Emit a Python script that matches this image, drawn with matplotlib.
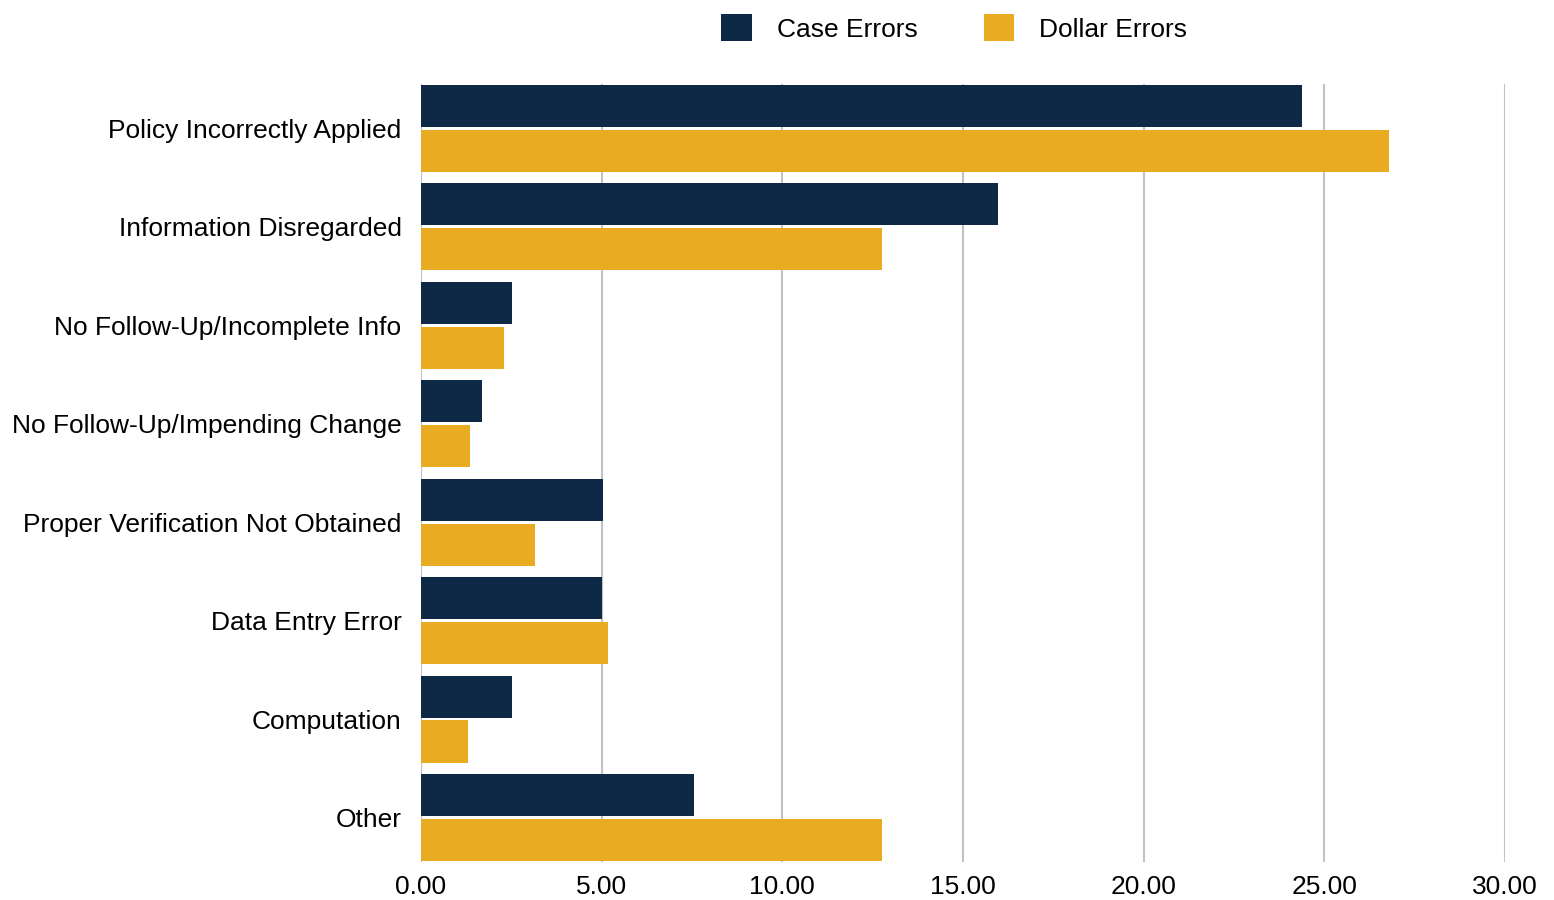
import numpy as np
import matplotlib.pyplot as plt
from matplotlib.patches import Patch

categories = [
    "Policy Incorrectly Applied",
    "Information Disregarded",
    "No Follow-Up/Incomplete Info",
    "No Follow-Up/Impending Change",
    "Proper Verification Not Obtained",
    "Data Entry Error",
    "Computation",
    "Other",
]
case_errors = [24.38, 15.97, 2.52, 1.69, 5.04, 5.01, 2.52, 7.56]
dollar_errors = [26.79, 12.76, 2.30, 1.36, 3.16, 5.18, 1.30, 12.76]

NAVY = "#0E2945"
GOLD = "#E9AB21"
FS = 19

plt.rcParams["font.family"] = ["Liberation Sans", "DejaVu Sans"]

fig = plt.figure(figsize=(15.54, 9), dpi=100)
ax = fig.add_axes([0.2709, 0.0422, 0.6976, 0.8645])

y = np.arange(len(categories))
h = 0.43
off = 0.228
ax.barh(y - off, case_errors, height=h, color=NAVY, zorder=3)
ax.barh(y + off, dollar_errors, height=h, color=GOLD, zorder=3)

ax.set_xlim(0, 30)
ax.set_ylim(7.45, -0.45)
ax.set_xticks(np.arange(0, 31, 5))
ax.set_xticklabels([f"{v:.2f}" for v in np.arange(0, 31, 5)], fontsize=FS)
ax.set_yticks(y)
ax.set_yticklabels(categories, fontsize=FS)
ax.tick_params(axis="y", length=0, pad=14)
ax.tick_params(axis="x", length=0, pad=9)
ax.grid(axis="x", color="#c2c2c2", linewidth=1.5, zorder=0)
for s in ax.spines.values():
    s.set_visible(False)

handles = [Patch(facecolor=NAVY, label="Case Errors"),
           Patch(facecolor=GOLD, label="Dollar Errors")]
fig.legend(handles=handles, loc="center", bbox_to_anchor=(0.614, 0.969), ncol=2,
           frameon=False, fontsize=FS, handlelength=1.17, handleheight=1.2,
           handletextpad=0.95, columnspacing=2.5)

fig.savefig("out.png", dpi=100)
